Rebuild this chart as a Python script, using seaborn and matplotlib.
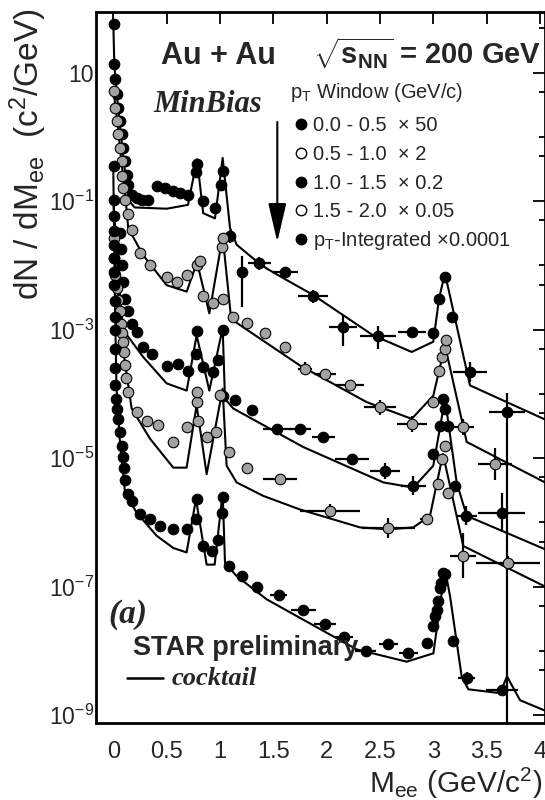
import matplotlib
matplotlib.use("Agg")
import numpy as np
import pandas as pd
import seaborn as sns
import matplotlib.pyplot as plt
from matplotlib.lines import Line2D
from matplotlib.patches import FancyArrowPatch
from matplotlib.ticker import FixedLocator, NullFormatter, NullLocator

# ---------------- data ----------------
# pT 0.0-0.5 x50
s1_mass = [0.004, 0.006, 0.016, 0.032, 0.047, 0.063, 0.079, 0.094, 0.110, 0.126,
           0.141, 0.172, 0.219, 0.266, 0.328, 0.407, 0.484, 0.562, 0.625, 0.703,
           0.775, 0.785, 0.843, 0.953, 1.010, 1.025, 1.094, 1.203, 1.368, 1.609,
           1.874, 2.155, 2.484, 2.797, 2.999, 3.055, 3.108, 3.171, 3.343, 3.687]
s1_yield = [57, 13.5, 7.85, 4.57, 2.82, 1.78, 1.10, 0.676, 0.422, 0.257,
            0.180, 0.126, 0.111, 0.105, 0.105, 0.170, 0.158, 0.141, 0.133, 0.126,
            0.288, 0.372, 0.0989, 0.0776, 0.180, 0.292, 0.0282, 0.00794, 0.0107, 0.00776,
            0.00331, 0.00110, 0.000794, 0.000912, 0.000871, 0.00302, 0.00661, 0.00158, 0.000219, 5.13e-5]
s1_dx = [0] * 28 + [0.11, 0.12, 0.14, 0.13, 0.17, 0.13, 0, 0, 0, 0, 0.16, 0.17]
s1_dlo = [0] * 26 + [0.1, 0.55, 0.1, 0.08, 0.1, 0.3, 0.2, 0.05, 0, 0, 0, 0, 0.15, 6.0]
s1_dhi = [0] * 26 + [0.1, 0.25, 0.1, 0.08, 0.1, 0.18, 0.15, 0.05, 0, 0, 0, 0, 0.15, 0.3]
c1_mass = [0.0, 0.01, 0.04, 0.08, 0.12, 0.15, 0.2, 0.5, 0.70, 0.785,
           0.843, 0.953, 1.025, 1.094, 1.156, 1.344, 1.437, 1.625, 1.871, 2.434,
           2.797, 2.999, 3.053, 3.108, 3.343, 4.046]
c1_yield = [60.3, 12.6, 3.55, 0.794, 0.200, 0.100, 0.0794, 0.0759, 0.0871, 0.447,
            0.0646, 0.0537, 0.468, 0.0380, 0.0209, 0.0115, 0.00891, 0.00589, 0.00347, 0.000813,
            0.000447, 0.000646, 0.00302, 0.0075, 0.000135, 3.98e-5]

# pT 0.5-1.0 x2
s2_mass = [0.004, 0.016, 0.032, 0.047, 0.063, 0.079, 0.086, 0.094, 0.110, 0.141,
           0.172, 0.250, 0.344, 0.500, 0.594, 0.687, 0.781, 0.812, 0.841, 0.935,
           1.016, 1.028, 1.031, 1.125, 1.250, 1.422, 1.609, 1.797, 1.984, 2.218,
           2.499, 2.797, 2.999, 3.055, 3.078, 3.109, 3.118, 3.280, 3.577]
s2_yield = [5.13, 2.82, 1.78, 1.09, 0.676, 0.417, 0.245, 0.158, 0.105, 0.0617,
            0.0355, 0.0155, 0.0100, 0.00661, 0.00556, 0.00708, 0.0100, 0.0115, 0.00331, 0.00263,
            0.0195, 0.00302, 0.0263, 0.00158, 0.00126, 0.000871, 0.000537, 0.000245, 0.000200, 0.000138,
            6.17e-5, 3.39e-5, 7.41e-5, 0.000229, 0.000372, 0.000501, 0.000676, 3.02e-5, 8.13e-6]
s2_dx = [0] * 27 + [0.07, 0.1, 0.13, 0.15, 0.14, 0, 0, 0, 0, 0, 0.1, 0.16]
s2_dy = [0] * 27 + [0.1, 0.08, 0.05, 0.12, 0.12, 0.05, 0, 0, 0, 0, 0.12, 0.25]
c2_mass = [0.0, 0.04, 0.08, 0.12, 0.14, 0.278, 0.5, 0.688, 0.785, 0.9,
           1.025, 1.105, 1.75, 2.375, 2.797, 2.999, 3.109, 3.312, 4.046]
c2_yield = [5.62, 1.58, 0.355, 0.0891, 0.0380, 0.0145, 0.0049, 0.00389, 0.0112, 0.00178,
            0.0282, 0.00145, 0.000275, 7.41e-5, 4.07e-5, 9.33e-5, 0.000562, 1.78e-5, 4.17e-6]

# pT 1.0-1.5 x0.2
s3_mass = [0.06, 0.072, 0.079, 0.094, 0.110, 0.141, 0.172, 0.219, 0.281, 0.360,
           0.500, 0.609, 0.703, 0.775, 0.785, 0.843, 0.937, 0.984, 1.025, 1.031,
           1.140, 1.297, 1.531, 1.750, 1.968, 2.234, 2.546, 2.812, 2.999, 3.062,
           3.093, 3.109, 3.140, 3.20, 3.31, 3.64]
s3_yield = [0.0316, 0.0178, 0.0100, 0.0055, 0.00302, 0.00191, 0.00123, 0.000912, 0.000537, 0.000422,
            0.000275, 0.000295, 0.000229, 0.000422, 0.000955, 0.000263, 0.000219, 0.000331, 0.000977, 9.33e-5,
            7.94e-5, 5.50e-5, 2.82e-5, 2.82e-5, 2.09e-5, 9.55e-6, 6.31e-6, 3.72e-6, 1.15e-5, 3.16e-5,
            8.32e-5, 5.89e-5, 3.16e-5, 3.63e-6, 1.26e-6, 1.41e-6]
s3_dx = [0] * 22 + [0.13, 0.1, 0.11, 0.16, 0.14, 0.12, 0, 0, 0, 0, 0, 0, 0.1, 0.22]
s3_dy = [0] * 22 + [0.06, 0.06, 0.06, 0.08, 0.12, 0.15, 0, 0, 0, 0, 0, 0.08, 0.15, 0.3]
c3_mass = [0.0, 0.04, 0.07, 0.094, 0.281, 0.500, 0.688, 0.781, 0.9, 1.025,
           1.047, 1.125, 1.781, 2.531, 2.812, 2.999, 3.109, 3.218, 3.312, 4.046]
c3_yield = [0.1, 0.0126, 0.00251, 0.000977, 0.000372, 0.000145, 0.000112, 0.000813, 0.000112, 0.00105,
            8.32e-5, 5.89e-5, 1.48e-5, 4.17e-6, 3.47e-6, 7.59e-6, 8.32e-5, 4.17e-6, 1.26e-6, 3.80e-7]

# pT 1.5-2.0 x0.05
s4_mass = [0.004, 0.006, 0.016, 0.032, 0.047, 0.063, 0.075, 0.085, 0.094, 0.100,
           0.110, 0.120, 0.141, 0.219, 0.313, 0.422, 0.562, 0.687, 0.781, 0.785,
           0.797, 0.875, 0.964, 1.0, 1.087, 1.250, 1.562, 2.031, 2.577, 2.937,
           3.046, 3.078, 3.109, 3.140, 3.280, 3.702]
s4_yield = [0.0263, 0.0129, 0.00708, 0.00437, 0.00288, 0.00191, 0.00123, 0.000871, 0.000631, 0.000447,
            0.000282, 0.000178, 0.000107, 5.13e-5, 3.80e-5, 3.31e-5, 1.78e-5, 3.02e-5, 7.41e-5, 0.000107,
            3.80e-5, 2.09e-5, 2.51e-5, 9.55e-5, 1.23e-5, 7.08e-6, 4.68e-6, 1.51e-6, 8.13e-7, 1.12e-6,
            3.89e-6, 9.55e-6, 1.55e-5, 2.88e-6, 3.02e-7, 2.34e-7]
s4_dx = [0] * 26 + [0.16, 0.28, 0.25, 0.06, 0, 0, 0, 0, 0.12, 0.3]
s4_dy = [0] * 26 + [0.05, 0.1, 0.15, 0.08, 0, 0, 0, 0, 0.35, 0.1]
c4_mass = [0.0, 0.05, 0.1, 0.172, 0.344, 0.562, 0.687, 0.781, 0.875, 1.025,
           1.062, 1.156, 1.406, 1.750, 2.312, 2.577, 2.812, 2.968, 3.09, 3.280, 4.046]
c4_yield = [0.0316, 0.00251, 0.000398, 5.89e-5, 2.0e-5, 7.08e-6, 7.08e-6, 6.61e-5, 5.62e-6, 0.00012,
            7.59e-6, 4.17e-6, 2.57e-6, 1.58e-6, 8.32e-7, 7.76e-7, 8.32e-7, 1.26e-6, 1.15e-5, 4.27e-7, 1.0e-7]

# pT-integrated x0.0001
s5_mass = [0.003, 0.004, 0.005, 0.006, 0.008, 0.009, 0.010, 0.011, 0.012, 0.013,
           0.014, 0.015, 0.016, 0.017, 0.022, 0.032, 0.047, 0.063, 0.079, 0.094,
           0.100, 0.110, 0.141, 0.172, 0.25, 0.344, 0.438, 0.562, 0.687, 0.775,
           0.785, 0.843, 0.922, 0.984, 1.016, 1.025, 1.087, 1.203, 1.344, 1.55,
           1.781, 1.984, 2.162, 2.366, 2.577, 2.765, 2.937, 2.999, 3.015, 3.031,
           3.046, 3.06, 3.075, 3.09, 3.11, 3.187, 3.312, 3.640]
s5_yield = [0.347, 0.105, 0.0575, 0.0339, 0.0209, 0.0129, 0.00794, 0.00501, 0.00282, 0.00158,
            0.000977, 0.000501, 0.000251, 0.000135, 8.32e-5, 5.89e-5, 4.07e-5, 2.51e-5, 1.55e-5, 1.02e-5,
            7.08e-6, 4.47e-6, 2.75e-6, 2.14e-6, 1.33e-6, 1.12e-6, 8.71e-7, 7.76e-7, 7.76e-7, 1.12e-6,
            2.29e-6, 4.27e-7, 3.55e-7, 5.37e-7, 1.41e-6, 2.45e-6, 2.09e-7, 1.45e-7, 1.0e-7, 7.5e-8,
            4.37e-8, 2.57e-8, 1.66e-8, 9.77e-9, 1.26e-8, 9.12e-9, 1.32e-8, 2.40e-8, 3.47e-8, 4.37e-8,
            5.89e-8, 9.55e-8, 1.15e-7, 1.62e-7, 1.58e-7, 1.41e-8, 3.72e-9, 2.45e-9]
s5_dx = [0] * 39 + [0.08, 0.12, 0.1, 0.08, 0.1, 0.09, 0.09] + [0] * 9 + [0, 0.08, 0.15]
s5_dy = [0] * 43 + [0.08] + [0] * 11 + [0.05, 0.1, 0.08]
c5_mass = [0.0, 0.015, 0.03, 0.06, 0.110, 0.219, 0.406, 0.562, 0.687, 0.775,
           0.875, 0.95, 1.025, 1.047, 1.156, 1.438, 1.999, 2.281, 2.75, 3.0,
           3.109, 3.156, 3.265, 3.328, 3.625, 3.69, 3.812, 4.046]
c5_yield = [0.316, 0.00316, 0.000126, 2.0e-5, 2.88e-6, 1.41e-6, 6.17e-7, 3.98e-7, 3.39e-7, 2.29e-6,
            2.19e-7, 2.19e-7, 2.88e-6, 2.34e-7, 1.45e-7, 6.31e-8, 1.91e-8, 1.05e-8, 6.76e-9, 9.12e-9,
            1.86e-7, 7.08e-8, 3.98e-9, 2.51e-9, 2.19e-9, 3.98e-9, 1.70e-9, 1.17e-9]

legend_labels = ["0.0 - 0.5  \u00d7 50", "0.5 - 1.0  \u00d7 2", "1.0 - 1.5  \u00d7 0.2",
                 "1.5 - 2.0  \u00d7 0.05", "p$_{\\rm T}$-Integrated \u00d70.0001"]
x_ticks = [0, 0.5, 1, 1.5, 2, 2.5, 3, 3.5, 4]
x_ticklabels = ["0", "0.5", "1", "1.5", "2", "2.5", "3", "3.5", "4"]
y_ticks = [1e1, 1e-1, 1e-3, 1e-5, 1e-7, 1e-9]
y_ticklabels = ["10", r"$10^{-1}$", r"$10^{-3}$", r"$10^{-5}$", r"$10^{-7}$", r"$10^{-9}$"]

# ---------------- style ----------------
sns.set_theme(style="white")
plt.rcParams["font.family"] = ["Liberation Sans", "DejaVu Sans"]
plt.rcParams["mathtext.fontset"] = "custom"
plt.rcParams["mathtext.rm"] = "Liberation Sans"
plt.rcParams["mathtext.it"] = "Liberation Sans:italic"
plt.rcParams["mathtext.bf"] = "Liberation Sans:bold"

W, H = 545, 800
fig = plt.figure(figsize=(W / 100, H / 100), dpi=100)
fig.patch.set_facecolor("white")
ax = fig.add_axes([96 / W, 1 - 723 / H, 449 / W, 711 / H])
ax.set_yscale("log")

BLACK = "black"
GRAY = "#a2a2a2"
series = [
    (s1_mass, s1_yield, s1_dx, s1_dlo, s1_dhi, c1_mass, c1_yield, BLACK),
    (s2_mass, s2_yield, s2_dx, s2_dy, s2_dy, c2_mass, c2_yield, GRAY),
    (s3_mass, s3_yield, s3_dx, s3_dy, s3_dy, c3_mass, c3_yield, BLACK),
    (s4_mass, s4_yield, s4_dx, s4_dy, s4_dy, c4_mass, c4_yield, GRAY),
    (s5_mass, s5_yield, s5_dx, s5_dy, s5_dy, c5_mass, c5_yield, BLACK),
]

for m, y, dx, dlo, dhi, cm, cy, face in series:
    cdf = pd.DataFrame({"M": cm, "y": cy})
    sns.lineplot(data=cdf, x="M", y="y", ax=ax, color="black", linewidth=1.5,
                 estimator=None, sort=False, zorder=2)
    yv = np.asarray(y, dtype=float)
    lo = yv * (1 - 10 ** (-np.asarray(dlo, dtype=float)))
    hi = yv * (10 ** np.asarray(dhi, dtype=float) - 1)
    ax.errorbar(m, y, xerr=dx, yerr=[lo, hi], fmt="none", ecolor="black",
                elinewidth=1.6, capsize=0, zorder=3)
    sdf = pd.DataFrame({"M": m, "y": y})
    sns.scatterplot(data=sdf, x="M", y="y", ax=ax, color=face, edgecolor="black",
                    linewidth=0.8, s=58, zorder=4, legend=False)

ax.set_xlabel("")
ax.set_ylabel("")
ax.set_xlim(-0.162, 4.046)
ax.set_ylim(10 ** -9.1245, 10 ** 1.942)

ax.xaxis.set_major_locator(FixedLocator(x_ticks))
ax.set_xticklabels(x_ticklabels)
ax.xaxis.set_minor_locator(NullLocator())
ax.yaxis.set_major_locator(FixedLocator(y_ticks))
ax.set_yticklabels(y_ticklabels)
minor = []
for e in range(-10, 3):
    for k in (1, 5):
        v = k * 10.0 ** e
        if not any(abs(v / t - 1) < 1e-6 for t in y_ticks):
            minor.append(v)
ax.yaxis.set_minor_locator(FixedLocator(minor))
ax.yaxis.set_minor_formatter(NullFormatter())

ax.tick_params(which="both", direction="in", top=True, right=True, color="black", width=1.3)
ax.tick_params(which="major", length=8.6)
ax.tick_params(which="minor", length=4.5)
ax.tick_params(axis="x", which="major", labelsize=17, pad=13)
ax.tick_params(axis="y", which="major", labelsize=16.5, pad=1.5)
for sp in ax.spines.values():
    sp.set_color("black")
    sp.set_linewidth(2.0)
ax.grid(False)


def fx(px):
    return px / W


def fy(py):
    return 1 - py / H


# axis titles
fig.text(fx(28), fy(8), r"dN / dM$_{\rm ee}$  (c$^{2}$/GeV)", rotation=90,
         ha="center", va="top", fontsize=24)
fig.text(fx(542), fy(793), r"M$_{\rm ee}$ (GeV/c$^{2}$)", ha="right", va="baseline", fontsize=21.5)

# header
fig.text(fx(161), fy(64), "Au + Au", fontsize=22, fontweight="bold", va="baseline")
fig.text(fx(313), fy(64), r"$\sqrt{\mathbf{s}_{\mathbf{NN}}}$ = 200 GeV", fontsize=21,
         fontweight="bold", va="baseline")
fig.text(fx(153), fy(112), "MinBias", family="Liberation Serif", style="italic",
         fontweight="bold", fontsize=22, va="baseline")

# legend (manual)
fig.text(fx(290), fy(98), r"p$_{\rm T}$ Window (GeV/c)", fontsize=14.5, va="baseline")
row_y = [124, 153, 182, 210, 238.5]
faces = [BLACK, "white", BLACK, "white", BLACK]
for lab, yc, fc in zip(legend_labels, row_y, faces):
    fig.add_artist(Line2D([fx(300.6)], [fy(yc)], transform=fig.transFigure, marker="o",
                          markersize=7.5, markerfacecolor=fc, markeredgecolor="black",
                          markeredgewidth=1.0, linestyle="none"))
    fig.text(fx(313), fy(yc + 7), lab, fontsize=14.5, va="baseline")

arrow = FancyArrowPatch((fx(277.3), fy(122)), (fx(277.3), fy(242)), transform=fig.transFigure,
                        arrowstyle="-|>,head_length=1.2,head_width=0.28", mutation_scale=20,
                        lw=1.5, color="black", shrinkA=0, shrinkB=0)
fig.add_artist(arrow)

fig.text(fx(108), fy(623), "(a)", family="Liberation Serif", style="italic",
         fontweight="bold", fontsize=24, va="baseline")
fig.text(fx(133), fy(655), "STAR preliminary", fontsize=19.5, fontweight="bold", va="baseline")
fig.add_artist(Line2D([fx(127), fx(163)], [fy(678), fy(678)], transform=fig.transFigure,
                      color="black", lw=1.8))
fig.text(fx(172), fy(685), "cocktail", family="Liberation Serif", style="italic",
         fontweight="bold", fontsize=19, va="baseline")

fig.savefig("out.png", dpi=100, facecolor="white")
